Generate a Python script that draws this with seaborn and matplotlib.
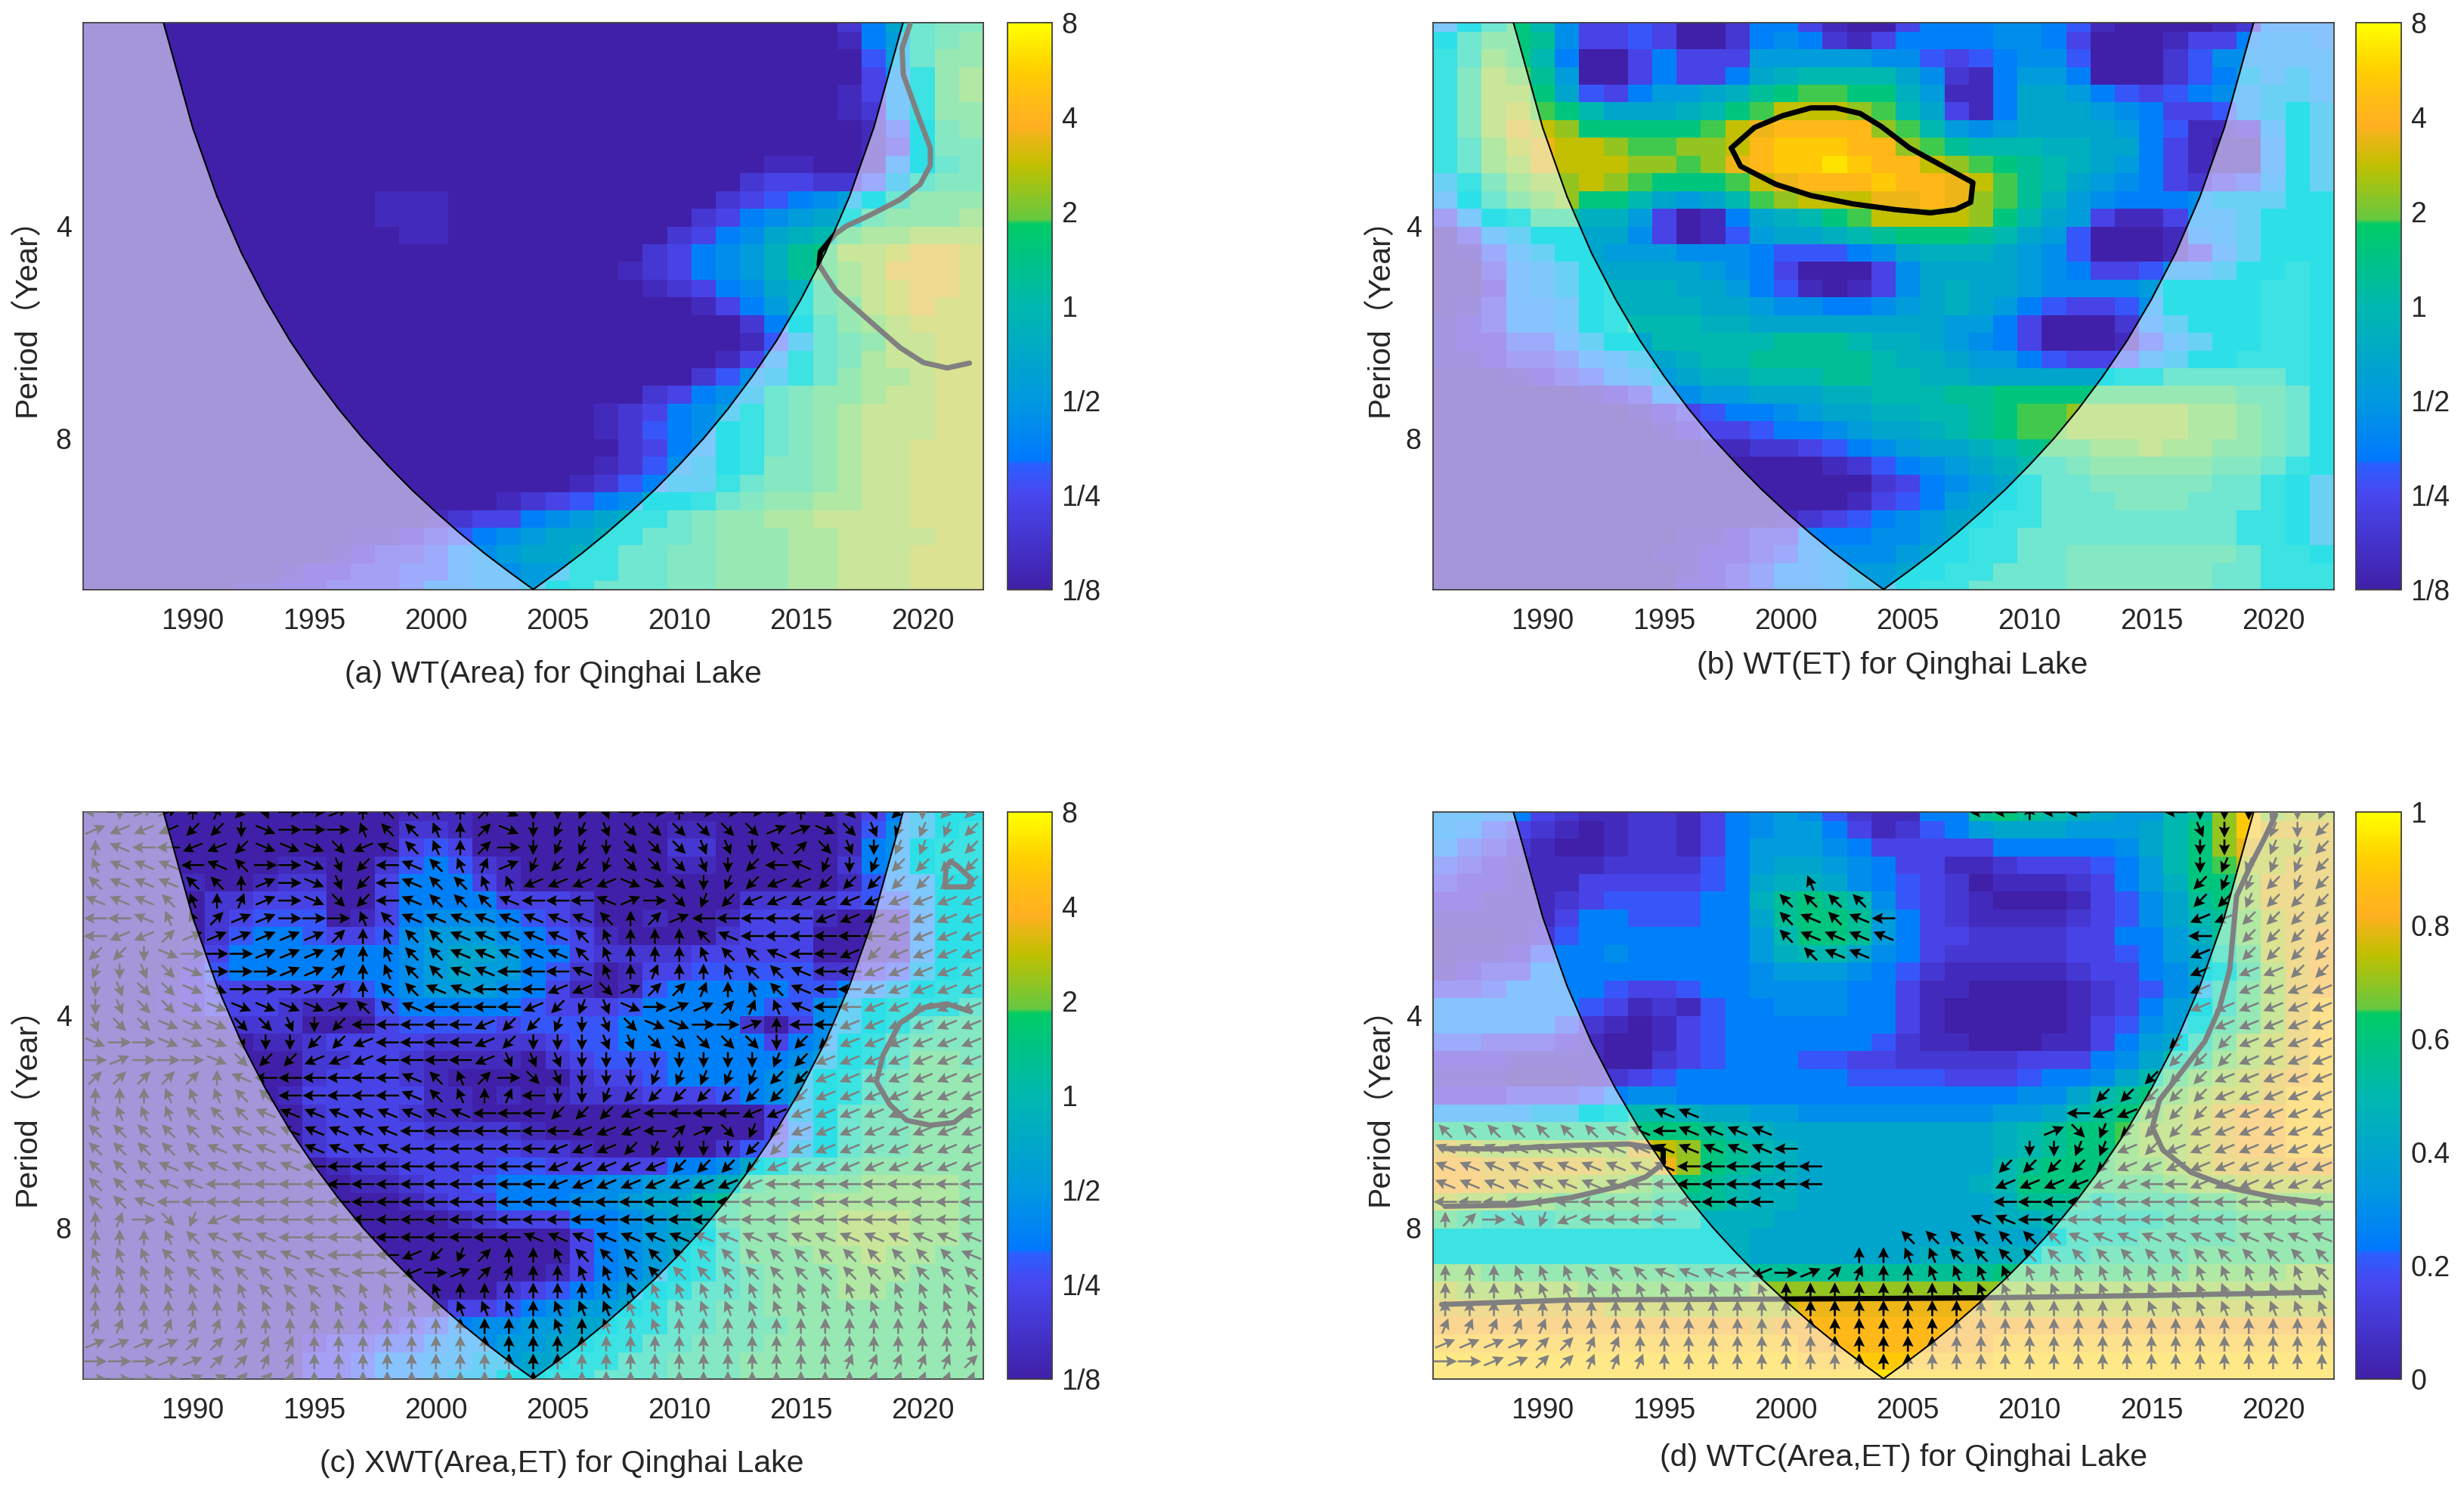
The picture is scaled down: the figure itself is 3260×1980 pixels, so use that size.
import numpy as np
import pandas as pd
import seaborn as sns
import matplotlib
matplotlib.use('Agg')
import matplotlib.pyplot as plt
from matplotlib.colors import LinearSegmentedColormap
from matplotlib.patches import Polygon

# Years on the x axis, one column per year
YEARS = list(range(1986, 2023))
X_TICKS = [1990, 1995, 2000, 2005, 2010, 2015, 2020]
Y_TICKS = [4, 8]
POWER_TICKS = [-3, -2, -1, 0, 1, 2, 3]
POWER_LABELS = ['1/8', '1/4', '1/2', '1', '2', '4', '8']
RHO_TICKS = [0, 0.2, 0.4, 0.6, 0.8, 1]
RHO_LABELS = ['0', '0.2', '0.4', '0.6', '0.8', '1']

# Cell values: one char per cell, 0..k = 0..20 steps up the colour bar
AREA_CELLS = [
    "0000000000 0000000000 0000000000 0258abb",
    "0000000000 0000000000 0000000000 0157abc",
    "0000000000 0000000000 0000000000 0047acc",
    "0000000000 0000000000 0000000000 00369cd",
    "0000000000 0000000000 0000000000 01369cd",
    "0000000000 0000000000 0000000000 01269cc",
    "0000000000 0000000000 0000000000 00148bc",
    "0000000000 0000000000 0000000000 00138bb",
    "0000000000 0000000000 0000000011 00158ab",
    "0000000000 0000000000 0000000233 2247abb",
    "0000000000 0011100000 0000002345 678accc",
    "0000000000 0011100000 0000023567 89bcccd",
    "0000000000 0001100000 0000235689 acddeee",
    "0000000000 0000000000 000235679b ceefggf",
    "0000000000 0000000000 001235679b cdegggf",
    "0000000000 0000000000 0001235689 bdefggf",
    "0000000000 0000000000 0000013579 bcefgff",
    "0000000000 0000000000 0000000258 acdefff",
    "0000000000 0000000000 0000000147 abceeff",
    "0000000000 0000000000 0000001369 abdeeff",
    "0000000000 0000000000 0000024679 acddeff",
    "0000000000 0000000000 00023567ab ccdeeff",
    "0000000000 0000000000 01235679ab cdeeeff",
    "0000000000 0000000000 01245689ab cdeeeff",
    "0000000000 0000000000 00235689ab cdeefff",
    "0000000000 0000000000 01246789bb cdeefff",
    "0000000000 0000000000 1245779abb cdeefff",
    "0000000000 0000000123 456889abcc ddeefff",
    "0000000000 0000123356 7899abccdd eeeefff",
    "0000000000 0112345678 899aabcccd deeeeff",
    "0000000000 1233456788 99aabbcccd deeefff",
    "0000000012 2334456677 99aabbcccd deeefff",
    "0000001122 3334556678 9aaabbcccd deeefff",
]
ET_CELLS = [
    "68aca63343 0025531003 5556654100 0012555",
    "8accb63343 0025652135 5556653000 1335665",
    "9adca50035 3337777766 4345664000 2466666",
    "9bedb70035 33589aaaa8 6215775000 2457676",
    "9beec84357 789bcddcc9 7115887543 4566776",
    "9befdca888 9acdfffeda 8315888765 3346787",
    "9begfecccc cdfghhhhed a767888875 4112687",
    "9adfgffedd eefhiiihhe dbaaa99885 3100587",
    "9adegfffee deghiijihh fedcba9875 3100587",
    "79bdeefedc ccdfghhhih hgfdba8765 3234687",
    "68acdecca8 78adefffgg hgedb97655 5677788",
    "3689bb9973 01589acdff ffeca87311 3667888",
    "0367888863 0147889abc ccba874000 1567888",
    "0146788777 6665444568 9998764000 1357888",
    "0035678888 8765300036 8888765334 6678898",
    "0025678999 8875410136 8988766667 8888998",
    "0135568999 9887665567 8987543346 8888998",
    "12355689aa a998888888 8775300025 7888998",
    "122445788a aaaabbba99 8765300014 6788998",
    "1123345678 9aabbbbba9 9877543346 7889998",
    "0001234567 899aaabbaa 9988888899 aaaaa98",
    "0000001235 67788899aa abbccccccc cccbba8",
    "0000000012 3455678899 aabcddeeee eddcba8",
    "0000000001 2334556788 9abcddeeee eddcba8",
    "0000000000 0112234567 889abccdde ddccba8",
    "0000000000 0000001245 6789aabccc ccbba98",
    "0000000000 0000000023 56789aabbb bbaa987",
    "0000000000 0000000134 57889aaabb baaa987",
    "0000000000 0000123456 78899aaaaa aaa9987",
    "0000000000 1123355566 7899aaaaaa aaa9987",
    "0000000001 1223456667 8899aabbbb bbba998",
    "0000000000 1234556778 899aaabbbb bbaa999",
    "0000000000 2234556778 99aaaabbbb bbaa999",
]
XWT_CELLS = [
    "0000000000 0001110000 0000000000 0135788",
    "0000000000 0002210000 0000110000 0146789",
    "0000000000 0003430000 0000220000 0156899",
    "0000000011 0024542100 0000110000 0256899",
    "0000100122 0035553100 0000000000 0145688",
    "0000022333 0035555333 2000000222 2344688",
    "0000023444 0135666543 2001001333 1001588",
    "0000024554 3346777654 3100002333 0001588",
    "0000135555 5556788755 3222233333 0001588",
    "0000245555 5556787754 2013344444 2234789",
    "0001233333 3456777653 1014555554 4557899",
    "0001233321 1145555543 3345555544 678999a",
    "0000002220 0034444344 4455555203 6789abb",
    "0000000112 3333222223 4455555535 689abbb",
    "0000000002 2332111102 3444555556 789accb",
    "0000000002 3332100000 2334555567 89abccc",
    "0000000013 3333110101 2223334567 89abccc",
    "0000000002 3332110000 0000000037 8abbccc",
    "0000000002 3333222210 0000000035 8abbccc",
    "0000000002 3333333322 1000002447 8abbccc",
    "0000000000 1223333443 333355689a abccccc",
    "0000000000 0112334555 5667789bcc ccddddc",
    "0000000000 0001233555 66788abccc ddddddc",
    "0000000000 0000012333 556789bccd deeeddc",
    "0000000000 0000000000 356788accd deeeddc",
    "0000000000 0000000000 356789accc ddeddcc",
    "0000000000 0000000001 356789abcc cdddccc",
    "0000000000 0000000234 56789aabcc cddcccc",
    "0000000000 1111133456 7789aabbcc ccccccc",
    "0000000000 0123456677 8899aabbbc ccccccc",
    "0000000002 3344566778 899aabbbcc ccccccc",
    "0000000003 3455667788 99aabbbccc ccccccc",
    "0000000003 3455677889 9aaabbbccc ccccccc",
]
WTC_CELLS = [
    "6655321122 1356764211 55bcba9877 abeieff",
    "6543210122 1356775312 4578887778 aceiggg",
    "5432100122 1357776533 3335555568 acegffg",
    "4321111222 2457887653 3112333457 acdffgg",
    "3221113333 3458998654 3201112357 9cceggg",
    "2211123444 4559bcba64 3210001346 8bceggg",
    "1111135544 4558bccb75 3211112346 8abdfgg",
    "0001245555 5557accb75 3322223355 79bdfgh",
    "0112455655 55579aa865 3222223345 78acfgh",
    "1233555555 5556777654 2111112335 689begh",
    "3345555433 4556666553 1100001234 67acegh",
    "5555554312 1455666553 1000001235 78acegi",
    "5555542101 3455555553 1000001346 79bcegi",
    "4433321001 3455555542 1100011357 8acefgi",
    "2221111002 3455544332 2222333568 abdefgi",
    "1110001234 5555555444 433345568a cdefghi",
    "2223334566 5555555555 5555668abc deffgii",
    "66667789aa 9887766666 666778abcd efghhii",
    "bbbbbbbbcc cba9888888 8889abccde efghhii",
    "gfeeeeeegf ecba988888 8889abccde efghhii",
    "hhgggggffg ecba988888 888abcccdd efggghh",
    "hhggffeedc cba9988888 889acccccc deeffff",
    "feeddccccb bba9988888 8889bbbabb bccdddd",
    "cbaaabbbba a999888888 88899aaaaa bbbcccc",
    "9999999999 9998888888 888889aaab bbbcccc",
    "9999999999 9998888888 99999aabbb bcccccc",
    "ddcccccccc bbbbbbbbbb bbbccccccc cddddee",
    "feeeeedddd dddeeeeeee eeeeeeeeee eeeeeee",
    "gggggggfff fffffggggg gggfffffff fffffff",
    "hhhhhhhhhh hhhghhhhhh hhhhhhhhhh hhhhhhh",
    "iiiiiiiiii iiiiihhhhh hhhiiiiiii iiiiiii",
    "jjjjjjjjjj jjjjjiiiii iiijjjjjjj jjjjjjj",
    "jjjjjjjjjj jjjjjjjjjj jjjjjjjjjj jjjjjjj",
]

# Arrow directions, one hex char per cell: 0=E, 4=N, 8=W, c=S, in steps of 22.5 degrees
XWT_PHASE = [
    "8c1143ad00 1466542fcc bd00400004 fedacaa",
    "1999aacf00 0566542fcb bdeeeeee11 fedbbba",
    "478899afff e9765420cb bceeeddc62 edcbbaa",
    "577787600f da876531ba abeeedca87 bcbaaaa",
    "677766410f da87665599 99ffecba99 aaaaaaa",
    "777654310f ea87666788 8710eba999 9999999",
    "8875521100 0567777777 7642188888 9999999",
    "8992111111 2456677777 6544467888 8889999",
    "aacf000111 2456677777 6544456678 89a9999",
    "bcdef00011 2456677888 7543445667 8899999",
    "cdeeff0001 2466778889 9e12234567 8899999",
    "cdeeffffff 166788889a bdf0112357 8899999",
    "deefffeedc a888889aab cdeff00148 8999999",
    "f00fffdcca a988889acc cddeeeeeca a999999",
    "01000feaa9 9988889ddd ccccccccba 9999999",
    "2222247888 88876520ed cccbbbbbaa 9999999",
    "4445556688 888765438c cbaaaaaaaa 9999999",
    "5555666777 777777888a aa98888999 9999999",
    "6666667777 7778888888 999821eba9 9999999",
    "6666677777 7778888889 99abcccaa9 9999999",
    "6667777778 8888888889 9999aaaa99 9999999",
    "6677788888 8888888889 9999999988 8888888",
    "6678888888 8888888888 8888888888 8888888",
    "430eb98888 8888888888 8888888888 8888888",
    "4445677788 8888888877 7777777777 7777777",
    "5556667777 8889ab2445 6666666666 6666667",
    "5555666667 7889012344 5566666666 6666666",
    "4455555666 6555544444 4555555555 5555556",
    "4444445555 5555555545 5555555555 5555555",
    "3333334444 4444444445 4545444444 4444444",
    "1111222334 4444444444 4444444444 4444444",
    "0001122334 4444444444 4444444444 4333332",
    "0000112234 4444444444 4444444444 4433333",
]
WTC_PHASE = [
    ".......... .......... ..88488... 8cccbcb",
    ".......... .......... .......... .dc.bca",
    ".......... .......... .......... .cc.bba",
    ".......... .......... .......... .cbbbba",
    ".......... .....5.... .......... .abbaba",
    ".......... ....6666.. .......... .aabaaa",
    ".......... ....67678. .......... .99aaaa",
    ".......... ....67777. .......... .8.aaaa",
    ".......... .....677.. .......... .9.aaaa",
    ".......... .......... .......... .9.99aa",
    ".......... .......... .......... .9.9999",
    ".......... .......... .......... .999999",
    ".......... .......... .......... ..99999",
    ".......... .......... .......... a.a9999",
    ".......... .......... .......... aaa9999",
    ".......... .......... .........a aa99999",
    ".......... .......... .......aaa aa99999",
    ".........7 7......... ......899a aa99999",
    "6666666778 7777...... .....1ebaa a999999",
    "7777777777 77778..... ....ccbb9a 9999999",
    "7777777777 888888.... ...aaaaa99 9999999",
    "7777777788 888888.... ...9999998 8999999",
    "8888888888 8888...... ...8888888 8888888",
    "420eb98888 .......... ..77888888 8888888",
    ".......... .........6 6666667777 7777777",
    ".......... .......445 5666666666 6666666",
    "4445556667 7789012344 5555555555 5555556",
    "4445555555 5555444444 4555555555 5555555",
    "4444444444 4444444444 4444444445 5555555",
    "3333344444 4444444444 4444444444 4444444",
    "1111223344 4444444444 4444444444 4444444",
    "0011223334 4444444444 4444444444 4444444",
    ".......... .......... .......... .......",
]

# Cone of influence
COI_YEARS = [1985.5, 1988.8, 1989, 1990, 1991, 1992, 1993, 1994, 1995, 1996, 1997, 1998, 1999,
             2000, 2001, 2002, 2003, 2004, 2005, 2006, 2007, 2008, 2009, 2010, 2011, 2012, 2013,
             2014, 2015, 2016, 2017, 2018, 2019, 2019.2, 2022.5]
COI_PERIODS = [2.06, 2.06, 2.18, 2.90, 3.63, 4.36, 5.08, 5.81, 6.53, 7.26, 7.99, 8.71, 9.44,
               10.16, 10.89, 11.62, 12.34, 13.07, 12.34, 11.62, 10.89, 10.16, 9.44, 8.71, 7.99,
               7.26, 6.53, 5.81, 5.08, 4.36, 3.63, 2.90, 2.18, 2.06, 2.06]

# Significance contours
A_LINE_YEARS = [2019.49, 2019.16, 2019.21, 2019.77, 2020.32, 2020.32, 2019.9, 2019.07, 2017.83, 2016.86,
                2016.39, 2015.8, 2015.75, 2016.44, 2017.83, 2019.07, 2020.04, 2021.01, 2021.93]
A_LINE_PERIODS = [2.07, 2.24, 2.44, 2.76, 3.10, 3.28, 3.49, 3.67, 3.86, 4.0,
                  4.11, 4.35, 4.54, 4.94, 5.45, 5.94, 6.24, 6.35, 6.25]
B_LINE_YEARS = [1997.75, 1998.7, 1999.86, 2001.02, 2002.03, 2003.04, 2003.91, 2005.07, 2006.37, 2007.67,
                2007.58, 2006.95, 2005.93, 2004.49, 2002.75, 2001.02, 1999.58, 1998.13, 1997.75]
B_LINE_PERIODS = [3.10, 2.90, 2.79, 2.72, 2.72, 2.77, 2.89, 3.10, 3.28, 3.47,
                  3.70, 3.79, 3.83, 3.79, 3.72, 3.62, 3.49, 3.29, 3.10]
C_LINE1_YEARS = [2021.98, 2021.29, 2020.32, 2019.35, 2018.66, 2018.1, 2018.38, 2019.07, 2020.04, 2021.01, 2021.98]
C_LINE1_PERIODS = [5.43, 5.67, 5.72, 5.63, 5.35, 4.96, 4.55, 4.10, 3.90, 3.85, 3.95]
C_LINE2_YEARS = [2020.92, 2020.97, 2021.16, 2021.45, 2022.04, 2021.93, 2020.92]
C_LINE2_PERIODS = [2.63, 2.46, 2.42, 2.46, 2.57, 2.63, 2.63]
D_LINE1_YEARS = [2020.1, 2019.66, 2019.08, 2018.5, 2018.36, 2018.22, 2017.78, 2017.2, 2016.19, 2015.33,
                 2015.04, 2015.47, 2016.63, 2018.36, 2020.1, 2021.97]
D_LINE1_PERIODS = [2.08, 2.24, 2.45, 2.71, 3.05, 3.44, 3.92, 4.35, 4.83, 5.27,
                   5.76, 6.20, 6.67, 7.03, 7.24, 7.37]
D_LINE2_YEARS = [1985.85, 1988.3, 1991.19, 1993.5, 1994.52, 1994.95, 1994.95, 1994.23, 1993.22, 1991.19, 1988.88, 1985.99]
D_LINE2_PERIODS = [6.17, 6.18, 6.11, 6.08, 6.15, 6.20, 6.48, 6.77, 6.97, 7.24, 7.42, 7.45]
D_LINE3_YEARS = [1985.85, 1991.19, 1999.86, 2008.1, 2014.31, 2021.97]
D_LINE3_PERIODS = [10.26, 10.11, 10.08, 10.04, 9.97, 9.86]

# Colour bar of the wavelet plots, with its two sharp steps
cmap = LinearSegmentedColormap.from_list('wavelet', [
    (0.0, '#4020A8'), (0.17, '#4848F0'), (0.222, '#2A60FF'), (0.226, '#0078FF'),
    (0.33, '#0098E0'), (0.5, '#00B8B0'), (0.646, '#00CC66'), (0.654, '#66C840'),
    (0.75, '#C0C000'), (0.82, '#FFB020'), (0.88, '#FFC010'), (0.92, '#FFD000'),
    (1.0, '#FFFF00')], N=256)

# Same scale as it looks outside the cone, where the image is washed out
faded_cmap = LinearSegmentedColormap.from_list('faded', [
    (0.0, '#A596DA'), (0.10, '#A696EB'), (0.17, '#A4A4F8'), (0.22, '#96AFFF'),
    (0.25, '#87C3FF'), (0.33, '#78CCF8'), (0.37, '#5AD7F0'), (0.40, '#2DE0E8'),
    (0.45, '#3CE2E2'), (0.50, '#70E6D2'), (0.55, '#85E8C2'), (0.60, '#98E8B4'),
    (0.65, '#B0E8A4'), (0.70, '#C8E69A'), (0.75, '#DAE291'), (0.80, '#EEDA91'),
    (0.85, '#FAD691'), (0.90, '#FDE18C'), (0.95, '#FEE887'), (1.0, '#FFF082')], N=256)

CODE = '0123456789abcdefghijk'
TOP_LOG2 = 1.043
# arrows are longer across than along the period axis
ARROW_X, ARROW_Y = 31, 21

sns.set_theme(style='white')
plt.rcParams['font.family'] = ['Liberation Sans', 'Noto Sans CJK SC']
TEXT = '#262626'
W, H = 3260, 1980
fig = plt.figure(figsize=(W / 100, H / 100), dpi=100, facecolor='white')


def decode(rows):
    rows = [r.replace(' ', '') for r in rows]
    return [[CODE.index(ch) / 20 for ch in r.ljust(37, r[-1])[:37]] for r in rows]


def period_to_row(p):
    return 0.5 + (np.log2(p) - TOP_LOG2) * 12


def year_to_col(y):
    return np.asarray(y, dtype=float) - 1985.5


def draw_panel(box, cbox, cells, title, title_x, title_y, ylabel_x, lines, phase=None, rho=False):
    ax = fig.add_axes([box[0] / W, 1 - box[3] / H, (box[2] - box[0]) / W, (box[3] - box[1]) / H])
    cax = fig.add_axes([cbox[0] / W, 1 - box[3] / H, (cbox[1] - cbox[0]) / W, (box[3] - box[1]) / H])

    frac = np.array(decode(cells))
    if rho:
        df = pd.DataFrame(frac, columns=YEARS)
        lo, hi = 0, 1
        ticks, labels = RHO_TICKS, RHO_LABELS
    else:
        df = pd.DataFrame(frac * 6 - 3, columns=YEARS)
        lo, hi = -3, 3
        ticks, labels = POWER_TICKS, POWER_LABELS

    # washed out version first, then the same cells in full colour inside the cone
    sns.heatmap(df, ax=ax, cbar=False, cmap=faded_cmap, vmin=lo, vmax=hi, xticklabels=False, yticklabels=False)
    sns.heatmap(df, ax=ax, cbar_ax=cax, cmap=cmap, vmin=lo, vmax=hi, xticklabels=False, yticklabels=False)

    # rows are centred on the period grid, so top and bottom rows are cut in half
    ax.set_ylim(32.5, 0.5)
    ax.set_xlim(0, 37)

    coi_x = year_to_col(COI_YEARS)
    coi_y = np.maximum(period_to_row(np.array(COI_PERIODS)), 0.5)
    cone = Polygon(np.column_stack([coi_x, coi_y]), closed=True, fc='none', ec='none', transform=ax.transData)
    ax.add_patch(cone)
    ax.collections[-1].set_clip_path(cone)
    cb = ax.collections[-1].colorbar

    if phase is not None:
        xs, ys, us, vs = [], [], [], []
        for i, r in enumerate(phase):
            for c, ch in enumerate(r.replace(' ', '')):
                if ch == '.':
                    continue
                ang = np.deg2rad(int(ch, 16) * 22.5)
                length = 1 / np.hypot(np.cos(ang) / ARROW_X, np.sin(ang) / ARROW_Y)
                xs.append(c + 0.5)
                ys.append(i + 0.5)
                us.append(np.cos(ang) * length)
                vs.append(np.sin(ang) * length)
        for colour, clip in (('#808080', False), ('black', True)):
            q = ax.quiver(xs, ys, us, vs, color=colour, angles='uv', units='dots', scale_units='dots', scale=1,
                          width=2.6, headwidth=5.6, headlength=5.6, headaxislength=4.8, pivot='mid', zorder=4)
            if clip:
                q.set_clip_path(cone)

    for years, periods in lines:
        ax.plot(year_to_col(years), period_to_row(np.array(periods)), color='#808080', lw=5, zorder=5)
        black, = ax.plot(year_to_col(years), period_to_row(np.array(periods)), color='black', lw=5, zorder=6)
        black.set_clip_path(cone)
    ax.plot(coi_x[1:-1], period_to_row(np.array(COI_PERIODS[1:-1])), color='black', lw=1.5, zorder=7)

    ax.set_xticks(year_to_col(X_TICKS))
    ax.set_xticklabels([str(y) for y in X_TICKS], rotation=0)
    ax.set_yticks([period_to_row(p) for p in Y_TICKS])
    ax.set_yticklabels([str(p) for p in Y_TICKS], rotation=0)
    ax.tick_params(axis='both', direction='in', length=9, width=1.3, color=TEXT, labelcolor=TEXT,
                   labelsize=27, top=True, right=True, bottom=True, left=True)
    ax.tick_params(axis='x', pad=17)
    ax.tick_params(axis='y', pad=11)
    for s in ax.spines.values():
        s.set_visible(True)
        s.set_color('#404040')
        s.set_linewidth(1.3)

    ax.set_ylabel('Period（Year）', fontsize=29.5, color=TEXT, va='center')
    ax.yaxis.set_label_coords(ylabel_x, 0.495)
    ax.set_xlabel(title, fontsize=29.5, color=TEXT, va='center')
    ax.xaxis.set_label_coords(title_x, title_y)

    cb.set_ticks(ticks)
    cb.set_ticklabels(labels)
    cb.ax.tick_params(direction='in', length=7, width=1.2, color=TEXT, labelcolor=TEXT, labelsize=27, pad=9,
                      right=True, left=False)
    cb.outline.set_visible(True)
    cb.outline.set_edgecolor('#404040')
    cb.outline.set_linewidth(1.3)
    return ax


draw_panel((110, 30, 1301, 780), (1333, 1392), AREA_CELLS, '(a) WT(Area) for Qinghai Lake', 0.522, -112 / 750, -0.063,
           [(A_LINE_YEARS, A_LINE_PERIODS)])
draw_panel((1896, 30, 3088, 780), (3117, 3177), ET_CELLS, '(b) WT(ET) for Qinghai Lake', 0.51, -100 / 750, -0.059,
           [(B_LINE_YEARS, B_LINE_PERIODS)])
draw_panel((110, 1074, 1301, 1824), (1333, 1392), XWT_CELLS, '(c) XWT(Area,ET) for Qinghai Lake', 0.532, -112 / 750, -0.063,
           [(C_LINE1_YEARS, C_LINE1_PERIODS), (C_LINE2_YEARS, C_LINE2_PERIODS)], phase=XWT_PHASE)
draw_panel((1896, 1074, 3088, 1824), (3117, 3177), WTC_CELLS, '(d) WTC(Area,ET) for Qinghai Lake', 0.522, -104 / 750, -0.059,
           [(D_LINE1_YEARS, D_LINE1_PERIODS), (D_LINE2_YEARS, D_LINE2_PERIODS), (D_LINE3_YEARS, D_LINE3_PERIODS)],
           phase=WTC_PHASE, rho=True)

fig.savefig('out.png', dpi=100, facecolor='white')
